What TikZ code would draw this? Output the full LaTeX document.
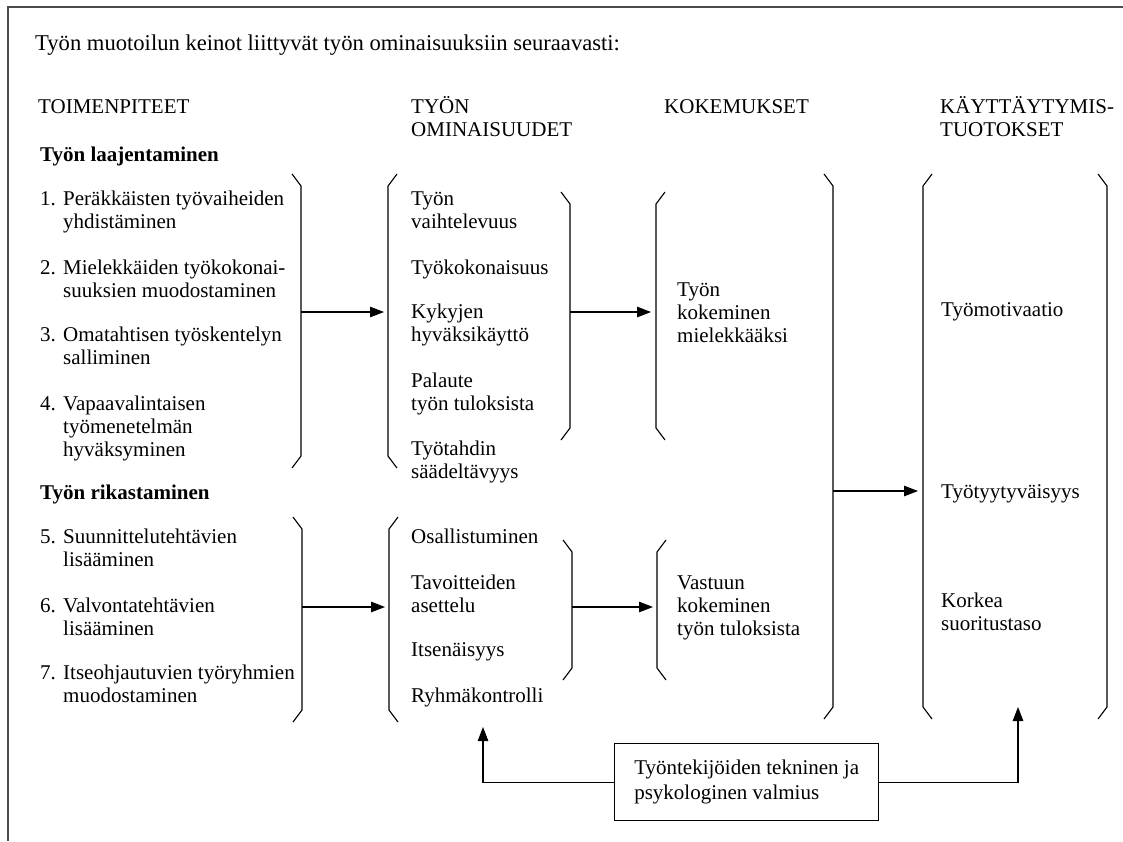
\documentclass[tikz,border=0pt]{standalone}
\usepackage{fontspec}
\setmainfont{Liberation Serif}
\usetikzlibrary{arrows.meta}

% ")"-shaped bracket: vertical stroke at x=#1 from y=#2 to y=#3
\newcommand\closebr[3]{\draw[brak] (#1-9,#2) -- (#1,#2+12) -- (#1,#3-12) -- (#1-9,#3);}
% "("-shaped bracket
\newcommand\openbr[3]{\draw[brak] (#1+9,#2) -- (#1,#2+12) -- (#1,#3-12) -- (#1+9,#3);}
% stacked lines whose baseline is that of the first line
\newcommand\lines[1]{\begin{tabular}[t]{@{}l@{}}#1\end{tabular}}

\begin{document}
\begin{tikzpicture}[x=1pt,y=-1pt,
  txt/.style={anchor=base west, inner sep=0pt,
              font=\fontsize{21}{23}\selectfont},
  head/.style={txt, font=\fontsize{21}{23}\selectfont\bfseries},
  brak/.style={line width=1.1pt, line join=miter},
  conn/.style={line width=1.1pt, -{Triangle[length=14pt,width=10.5pt]}},
  frameline/.style={line width=1.4pt, draw=black!70},
  readybox/.style={draw, line width=1.3pt, anchor=north west,
                   minimum width=264pt, minimum height=77pt,
                   inner sep=0pt, font=\fontsize{21}{25}\selectfont}
]
\useasboundingbox (0,0) rectangle (1123,841);

% open frame: top and left edges only
\draw[frameline] (7,7) -- (1123,7);
\draw[frameline] (8,7) -- (8,841);

% title and column headings
\node[txt, font=\fontsize{22.6}{25}\selectfont] (title) at (35,50)
  {Työn muotoilun keinot liittyvät työn ominaisuuksiin seuraavasti:};
\node[txt] (h1) at (38,113) {TOIMENPITEET};
\node[txt] (h2) at (411,113) {\lines{TYÖN\\OMINAISUUDET}};
\node[txt] (h3) at (664,113) {KOKEMUKSET};
\node[txt] (h4) at (940,113) {\lines{KÄYTTÄYTYMIS-\\TUOTOKSET}};

% measures: job enlargement
\node[head] (g1) at (40,161) {Työn laajentaminen};
\node[txt] (n1) at (40,205) {1.};
\node[txt] (t1) at (63,205) {\lines{Peräkkäisten työvaiheiden\\yhdistäminen}};
\node[txt] (n2) at (40,274) {2.};
\node[txt] (t2) at (63,274) {\lines{Mielekkäiden työkokonai-\\suuksien muodostaminen}};
\node[txt] (n3) at (40,341) {3.};
\node[txt] (t3) at (63,341) {\lines{Omatahtisen työskentelyn\\salliminen}};
\node[txt] (n4) at (40,410) {4.};
\node[txt] (t4) at (63,410) {\lines{Vapaavalintaisen\\työmenetelmän\\hyväksyminen}};

% measures: job enrichment
\node[head] (g2) at (40,499) {Työn rikastaminen};
\node[txt] (n5) at (40,543) {5.};
\node[txt] (t5) at (63,543) {\lines{Suunnittelutehtävien\\lisääminen}};
\node[txt] (n6) at (40,612) {6.};
\node[txt] (t6) at (63,612) {\lines{Valvontatehtävien\\lisääminen}};
\node[txt] (n7) at (40,679) {7.};
\node[txt] (t7) at (63,679) {\lines{Itseohjautuvien työryhmien\\muodostaminen}};

% job characteristics
\node[txt] (c1) at (411,205) {\lines{Työn\\vaihtelevuus}};
\node[txt] (c2) at (411,274) {Työkokonaisuus};
\node[txt] (c3) at (411,318) {\lines{Kykyjen\\hyväksikäyttö}};
\node[txt] (c4) at (411,387) {\lines{Palaute\\työn tuloksista}};
\node[txt] (c5) at (411,455) {\lines{Työtahdin\\säädeltävyys}};
\node[txt] (c6) at (411,543) {Osallistuminen};
\node[txt] (c7) at (411,589) {\lines{Tavoitteiden\\asettelu}};
\node[txt] (c8) at (411,656) {Itsenäisyys};
\node[txt] (c9) at (411,702) {Ryhmäkontrolli};

% experiences
\node[txt] (e1) at (677,296) {\lines{Työn\\kokeminen\\mielekkääksi}};
\node[txt] (e2) at (677,589) {\lines{Vastuun\\kokeminen\\työn tuloksista}};

% behavioural outcomes
\node[txt] (o1) at (941,316) {Työmotivaatio};
\node[txt] (o2) at (941,498) {Työtyytyväisyys};
\node[txt] (o3) at (941,607) {\lines{Korkea\\suoritustaso}};

% readiness box
\node[readybox] (ready) at (614,743)
  {\begin{tabular}{@{}l@{}}Työntekijöiden tekninen ja\\psykologinen valmius\end{tabular}};

% brackets
\closebr{301}{174}{468}
\openbr{388}{174}{468}
\closebr{570}{192}{440}
\openbr{656}{192}{440}
\closebr{302}{517}{722}
\openbr{389}{517}{722}
\closebr{572}{540}{680}
\openbr{657}{540}{680}
\closebr{833}{174}{719}
\openbr{923}{174}{719}
\closebr{1107}{174}{719}

% connector end points on the brackets
\coordinate (aOut) at (301,312);
\coordinate (bIn)  at (384,312);
\coordinate (cOut) at (570,312);
\coordinate (dIn)  at (651,312);
\coordinate (a2Out) at (302,607);
\coordinate (b2In)  at (385,607);
\coordinate (c2Out) at (572,607);
\coordinate (d2In)  at (653,607);
\coordinate (eOut) at (833,491);
\coordinate (fIn)  at (918,491);
\coordinate (bUp)  at (483,727);
\coordinate (fUp)  at (1018,707);

\draw[conn] (aOut) -- (bIn);
\draw[conn] (cOut) -- (dIn);
\draw[conn] (a2Out) -- (b2In);
\draw[conn] (c2Out) -- (d2In);
\draw[conn] (eOut) -- (fIn);
\draw[conn] (ready.west) -| (bUp);
\draw[conn] (ready.east) -| (fUp);
\end{tikzpicture}
\end{document}
